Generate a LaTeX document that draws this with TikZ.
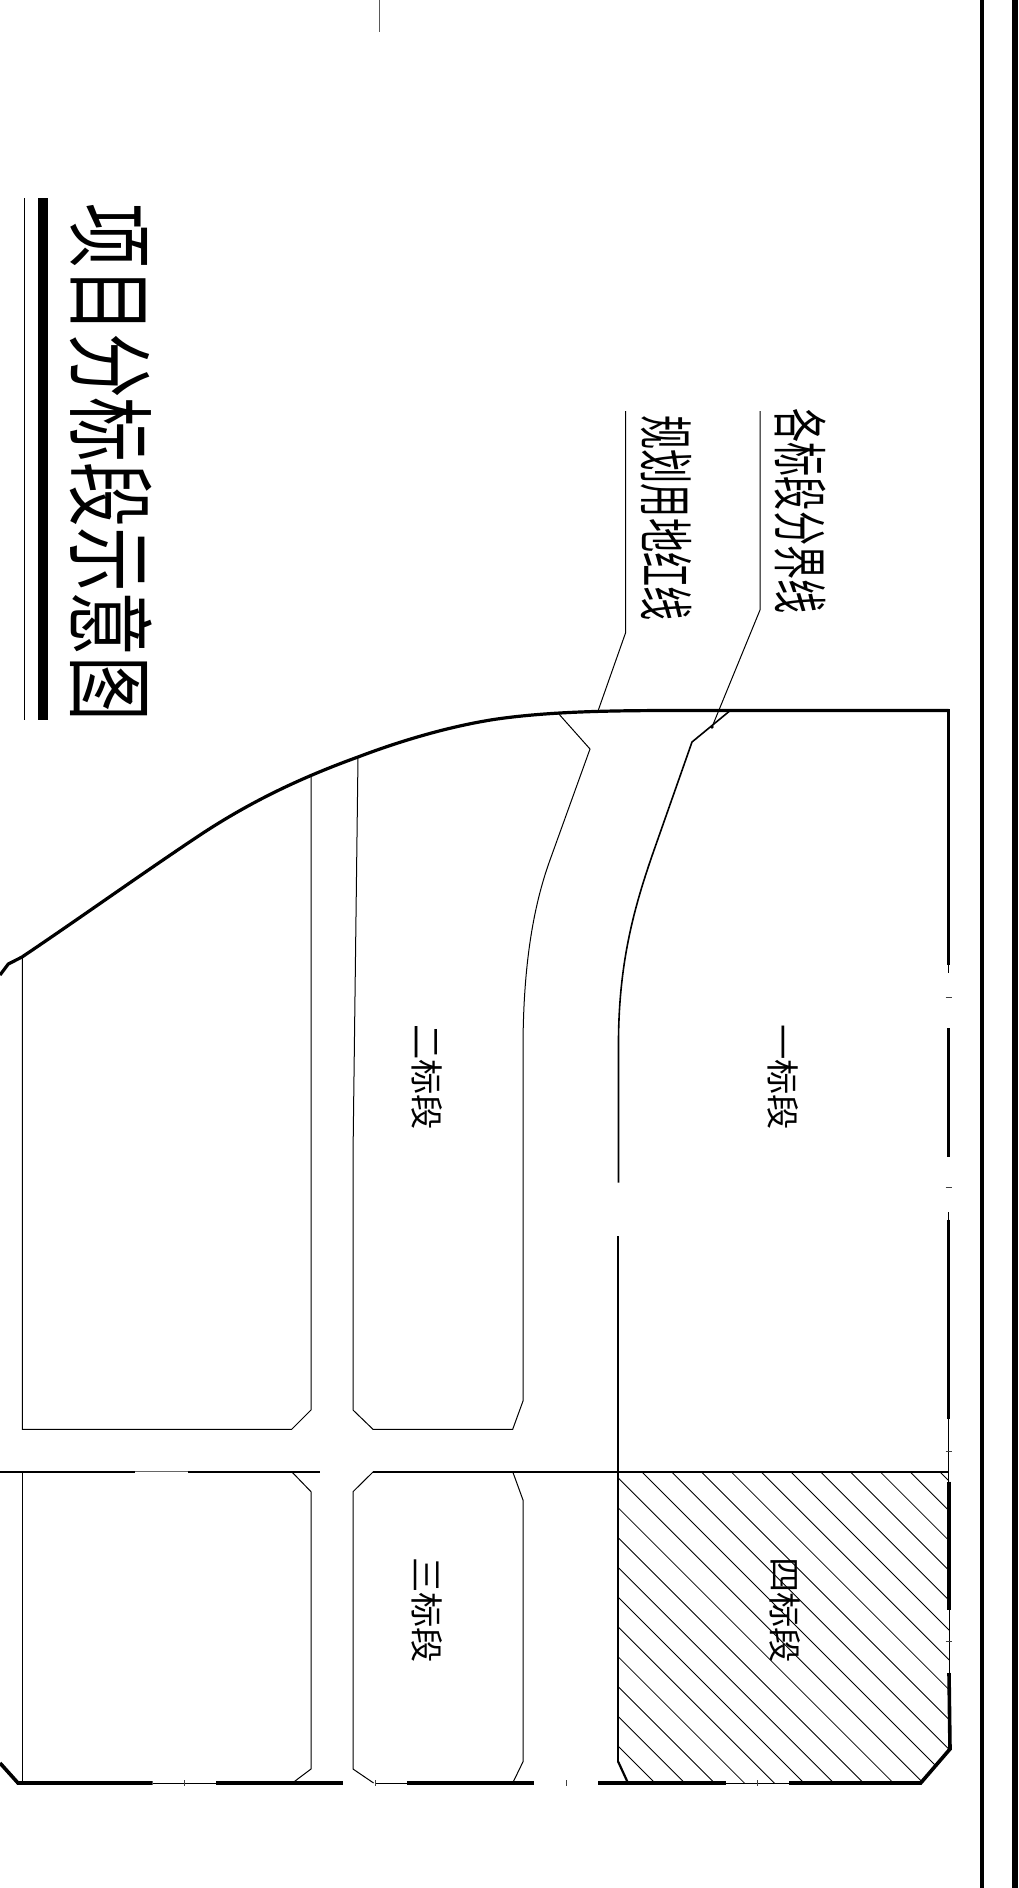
\documentclass[tikz,border=0pt]{standalone}
\usepackage{fontspec}
\newfontfamily\cjk{Noto Sans CJK SC}
\tikzset{
  thinln/.style={line width=1pt,black,line join=miter},
  medln/.style={line width=1.6pt,black,line join=miter},
  thickln/.style={line width=3.6pt,black,line join=miter},
  tickln/.style={line width=0.9pt,black!75},
  hatchln/.style={line width=0.85pt,black},
  titletext/.style={inner sep=0pt,rotate=-90,xscale=.735,font=\cjk\fontsize{88}{88}\selectfont},
  notetext/.style={inner sep=0pt,rotate=-90,xscale=.62,font=\cjk\fontsize{55}{55}\selectfont},
  lottext/.style={inner sep=0pt,rotate=-90,xscale=1.07,font=\cjk\fontsize{33}{33}\selectfont},
}
\begin{document}
\begin{tikzpicture}[x=1pt,y=-1pt]
\useasboundingbox (0,0) rectangle (1019,1888);
% right double lines and small top tick
\draw[line width=4.5pt] (982,0) -- (982,1888);
\draw[line width=5.8pt] (1015,0) -- (1015,1888);
\draw[line width=1.1pt,black!65] (379.5,0) -- (379.5,32);
% title
\draw[thinln] (24.7,198) -- (24.7,720);
\draw[line width=9.5pt] (43,198) -- (43,720);
\node[titletext] (title) at (111,462.4) {项目分标段示意图};
% notes
\node[notetext] (redline) at (666,518) {规划用地红线};
\node[notetext] (divline) at (800,511) {各标段分界线};
\coordinate (r1) at (625.5,411); \coordinate (r2) at (625.5,633); \coordinate (r3) at (598,711);
\coordinate (d1) at (760,411); \coordinate (d2) at (760,610); \coordinate (d3) at (712,727);
\draw[thinln] (r1) -- (r2) -- (r3);
\draw[thinln] (d1) -- (d2) -- (d3);
\fill (d3) circle (1.8pt);
% hatch
\begin{scope}
\clip (618,1471.7) -- (949,1471.7) -- (949,1749) -- (920,1783) -- (628,1783) -- (618,1761.7) -- cycle;
\foreach \k in {-10,...,11} {
  \draw[hatchln] ({641.7+\k*29.8-50},1421.7) -- ({641.7+\k*29.8+400},1871.7);
}
\end{scope}
% outer boundary: curve and top
\draw[line width=3.2pt,line join=round] (0,975) -- (8.3,964) -- (22,957)
  .. controls (80,918) and (140,875) .. (200,835)
  .. controls (250,802) and (300,778) .. (358,757)
  .. controls (400,741) and (450,726) .. (497,719)
  .. controls (550,711.5) and (610,710.5) .. (677,710.5)
  -- (948.5,710.5);
% right edge
\draw[thickln] (948.5,709) -- (948.5,965);
\draw[thinln] (948.5,965) -- (948.5,973);
\draw[thickln] (948.5,1028) -- (948.5,1157);
\draw[thickln] (948.5,1219.6) -- (948.5,1418.6);
\draw[thinln] (948.5,1212) -- (948.5,1481.7);
\draw[thickln] (949,1481.7) -- (949,1610);
\draw[thinln] (949,1610) -- (949,1673);
\draw[thickln] (949,1673) -- (950,1749) -- (920.7,1783) -- (789,1783);
\foreach \yy in {997,1187.8,1451,1641.7} { \draw[tickln] (945.5,\yy) -- (951.5,\yy); }
% bottom edge
\draw[thickln] (0,1763) -- (18,1783) -- (152.7,1783);
\draw[thinln] (152.7,1783) -- (216,1783);
\draw[thickln] (216,1783) -- (343,1783);
\draw[thinln] (375.6,1783) -- (407,1783);
\draw[thickln] (407,1783) -- (534,1783);
\draw[thickln] (598,1783) -- (726,1783);
\draw[thinln] (726,1783) -- (789,1783);
\foreach \xx in {184.5,375.6,566,757.3} { \draw[tickln] (\xx,1780) -- (\xx,1786); }
% road line
\draw[line width=1.8pt] (0,1471.7) -- (135,1471.7);
\draw[thinln,black!60] (135,1471.7) -- (188,1471.7);
\draw[line width=1.8pt] (188,1471.7) -- (320,1471.7);
\draw[line width=1.8pt] (373.3,1471.7) -- (949,1471.7);
% lot 1 / lot 4 divider
\draw[medln] (730,710.7) -- (692,742) -- (653,853)
  .. controls (635,905) and (619,960) .. (618.5,1040)
  -- (618.5,1182.7);
\draw[medln] (618.2,1236) -- (618.2,1761.7);
\draw[line width=2.2pt] (618.2,1761.7) -- (628,1783);
% lot 2
\draw[thinln] (358,757) -- (353,1156) -- (353,1410) -- (373,1429.3) -- (512.7,1429.3) -- (523,1401) -- (523,1050)
  .. controls (523,980) and (530,915) .. (550,860)
  -- (590,749) -- (558,713);
% upper-left block
\draw[thinln] (22.3,957) -- (22.3,1429.3) -- (291.7,1429.3) -- (311,1410) -- (311,775);
% lower-left block
\draw[thinln] (22.3,1471.7) -- (22.3,1783);
\draw[thinln] (291.7,1471.7) -- (311,1491.7) -- (311,1769) -- (292.4,1783);
% lot 3
\draw[thinln] (373.3,1471.7) -- (353,1491.7) -- (353,1769) -- (373.6,1783);
\draw[thinln] (512.7,1471.7) -- (523,1500) -- (523,1761.7) -- (512.7,1783);
% lot labels
\node[lottext] (lot1) at (783,1077) {一标段};
\node[lottext] (lot2) at (427,1077) {二标段};
\node[lottext] (lot3) at (427,1610) {三标段};
\node[lottext] (lot4) at (785.5,1610) {四标段};
\end{tikzpicture}
\end{document}
